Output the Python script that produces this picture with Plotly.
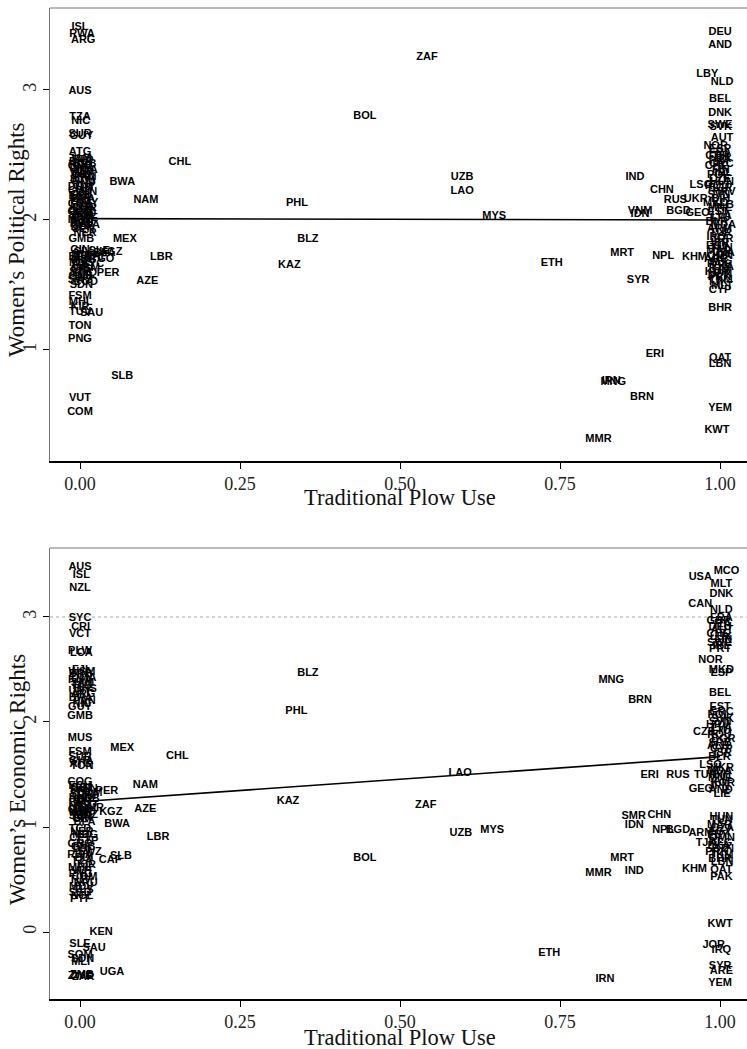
import plotly.graph_objects as go

W, H = 747, 1049

# ---------------- Women's Political Rights (top panel) ----------------
pol_spread_code = ("ISL RWA ARG AUS TZA NIC SUR GUY ATG HND NER GMB CHL BWA NAM MEX KGZ LBR PER AZE "
                   "FSM MHL KIR TUV SAU TON PNG SLB VUT COM ZAF BOL UZB LAO PHL MYS BLZ KAZ ETH IND "
                   "CHN RUS UKR BGD GEO VNM IDN LSO MRT NPL KHM SYR ERI IRN MNG BRN MMR DEU AND LBY "
                   "NLD BEL DNK SWE SVK AUT NOR ESP BHR QAT LBN YEM KWT").split()
pol_spread_x = [0.000, 0.003, 0.005, 0.000, 0.000, 0.001, 0.000, 0.002, 0.000, 0.006,
                0.008, 0.002, 0.156, 0.066, 0.103, 0.070, 0.048, 0.127, 0.044, 0.105,
                0.000, 0.001, 0.000, 0.000, 0.018, 0.000, 0.000, 0.066, 0.000, 0.000,
                0.542, 0.445, 0.597, 0.597, 0.339, 0.647, 0.356, 0.327, 0.737, 0.867,
                0.909, 0.930, 0.962, 0.935, 0.965, 0.875, 0.875, 0.970, 0.847, 0.911,
                0.960, 0.872, 0.898, 0.830, 0.833, 0.878, 0.810, 1.000, 1.000, 0.980,
                1.003, 1.000, 1.000, 1.000, 1.001, 1.003, 0.993, 1.000, 1.000, 1.000,
                1.000, 1.000, 0.995]
pol_spread_y = [3.48, 3.43, 3.38, 2.99, 2.79, 2.76, 2.66, 2.64, 2.52, 2.28,
                1.90, 1.85, 2.44, 2.29, 2.15, 1.85, 1.75, 1.71, 1.59, 1.53,
                1.41, 1.37, 1.33, 1.29, 1.28, 1.18, 1.08, 0.80, 0.63, 0.52,
                3.25, 2.80, 2.33, 2.22, 2.13, 2.03, 1.85, 1.65, 1.67, 2.33,
                2.23, 2.15, 2.16, 2.07, 2.05, 2.07, 2.04, 2.27, 1.74, 1.72,
                1.71, 1.54, 0.97, 0.76, 0.75, 0.64, 0.31, 3.44, 3.34, 3.12,
                3.06, 2.93, 2.82, 2.73, 2.71, 2.63, 2.57, 2.54, 1.32, 0.94,
                0.89, 0.55, 0.38]

pol_left_hi_code = ("JAM TTO BHS BRB GRD DMA LCA VCT KNA CRI PAN SLV GTM DOM HTI CUB VEN COL "
                    "ECU BRA PRY URY GHA NGA CMR GAB COG AGO ZMB ZWE MOZ MWI KEN UGA BDI SEN").split()
pol_left_hi_x = [0.000, 0.004, 0.001, 0.007, 0.000, 0.003, 0.010, 0.000, 0.005, 0.002,
                 0.008, 0.000, 0.004, 0.001, 0.006, 0.000, 0.009, 0.003, 0.000, 0.005,
                 0.002, 0.011, 0.000, 0.004, 0.007, 0.001, 0.000, 0.006, 0.003, 0.009,
                 0.000, 0.004, 0.002, 0.012, 0.000, 0.005]
pol_left_hi_y = [2.47, 2.46, 2.44, 2.43, 2.41, 2.40, 2.38, 2.37, 2.36, 2.34,
                 2.33, 2.31, 2.30, 2.25, 2.24, 2.22, 2.21, 2.19, 2.18, 2.16,
                 2.15, 2.13, 2.12, 2.10, 2.09, 2.07, 2.06, 2.04, 2.03, 2.01,
                 2.00, 1.99, 1.97, 1.96, 1.94, 1.93]

pol_left_lo_code = ("GIN SLE CIV BFA MLI TCD CAF BEN TGO MDG MUS SYC FJI WSM CPV STP GNQ GNB "
                    "DJI SWZ COD SDN").split()
pol_left_lo_x = [0.000, 0.030, 0.004, 0.038, 0.001, 0.008, 0.025, 0.000, 0.035, 0.006,
                 0.002, 0.020, 0.000, 0.010, 0.003, 0.000, 0.007, 0.001, 0.005, 0.000,
                 0.009, 0.002]
pol_left_lo_y = [1.77, 1.76, 1.75, 1.74, 1.73, 1.72, 1.72, 1.71, 1.70, 1.69,
                 1.67, 1.66, 1.65, 1.63, 1.62, 1.60, 1.59, 1.57, 1.56, 1.54,
                 1.52, 1.50]

pol_right_code = ("FRA GBR ITA PRT GRC CHE FIN IRL POL CZE HUN ROU BGR HRV SVN BIH MKD ALB "
                  "MNE EST LVA LTU BLR MDA ARM TUR IRQ JOR ISR EGY TUN MAR DZA OMN ARE AFG "
                  "PAK LKA BTN KOR JPN PRK TKM TJK MLT CYP").split()
pol_right_x = [1.000, 0.996, 1.004, 0.999, 1.002, 0.994, 1.001, 1.005, 0.997, 1.000,
               1.003, 0.995, 1.000, 1.006, 0.998, 1.001, 0.993, 1.004, 1.000, 0.997,
               1.002, 1.000, 0.995, 1.005, 0.999, 1.001, 0.994, 1.003, 1.000, 0.996,
               1.002, 0.998, 1.005, 1.000, 0.993, 1.001, 0.997, 1.004, 1.000, 0.995,
               1.002, 0.999, 1.001, 0.996, 1.003, 1.000]
pol_right_y = [2.51, 2.49, 2.47, 2.45, 2.43, 2.41, 2.38, 2.36, 2.34, 2.31,
               2.29, 2.26, 2.24, 2.21, 2.19, 2.16, 2.13, 2.11, 2.09, 2.06,
               2.03, 2.01, 1.98, 1.96, 1.93, 1.90, 1.87, 1.85, 1.82, 1.80,
               1.78, 1.76, 1.74, 1.72, 1.70, 1.68, 1.66, 1.64, 1.62, 1.60,
               1.58, 1.56, 1.54, 1.52, 1.49, 1.46]

pol_fit_x = [0.0, 1.0]
pol_fit_y = [2.01, 2.00]

# ---------------- Women's Economic Rights (bottom panel) ----------------
eco_spread_code = ("AUS ISL NZL SYC CRI VCT PLW LCA GMB MUS FSM MEX CHL COG PER NAM KGZ AZE BWA LBR "
                   "SLB CAF KEN SLE SAU UGA ZWE ZMB ZAR BLZ PHL LAO KAZ ZAF UZB MYS BOL ETH MNG BRN "
                   "IRN MMR MRT IND ERI RUS TUR GEO SMR CHN IDN NPL BGD ARM KHM QAT PAK KWT JOR IRQ "
                   "SYR ARE YEM MCO USA MLT DNK CAN NLD NOR MKD ESP BEL EST CZE LSO HUN").split()
eco_spread_x = [0.000, 0.002, 0.000, 0.000, 0.001, 0.000, 0.000, 0.002, 0.000, 0.000,
                0.000, 0.066, 0.152, 0.000, 0.042, 0.102, 0.048, 0.102, 0.058, 0.122,
                0.064, 0.047, 0.033, 0.000, 0.022, 0.050, 0.000, 0.003, 0.005, 0.356,
                0.338, 0.594, 0.325, 0.540, 0.595, 0.644, 0.445, 0.733, 0.830, 0.875,
                0.820, 0.810, 0.847, 0.866, 0.890, 0.934, 0.977, 0.970, 0.865, 0.905,
                0.866, 0.911, 0.934, 0.970, 0.960, 1.002, 1.002, 1.000, 0.990, 1.002,
                1.000, 1.002, 1.000, 1.010, 0.969, 1.002, 1.002, 0.969, 1.002, 0.985,
                1.002, 1.002, 1.000, 1.000, 0.975, 0.985, 1.002]
eco_spread_y = [3.47, 3.40, 3.27, 2.99, 2.90, 2.84, 2.67, 2.65, 2.05, 1.85,
                1.71, 1.75, 1.67, 1.43, 1.34, 1.40, 1.14, 1.17, 1.03, 0.90,
                0.72, 0.68, 0.00, -0.12, -0.15, -0.38, -0.42, -0.41, -0.43, 2.46,
                2.10, 1.51, 1.25, 1.21, 0.94, 0.97, 0.70, -0.20, 2.40, 2.21,
                -0.45, 0.56, 0.70, 0.58, 1.49, 1.49, 1.49, 1.36, 1.10, 1.11,
                1.02, 0.97, 0.97, 0.94, 0.60, 0.59, 0.52, 0.07, -0.13, -0.17,
                -0.33, -0.37, -0.49, 3.44, 3.38, 3.31, 3.22, 3.12, 3.06, 2.59,
                2.49, 2.46, 2.27, 2.14, 1.90, 1.59, 1.09]

eco_left_a_code = "FJI WSM BRB DMA KNA JAM TTO BHS URY ARG BRA PAN NIC GUY".split()
eco_left_a_x = [0.000, 0.003, 0.001, 0.006, 0.000, 0.004, 0.002, 0.008, 0.000, 0.005,
                0.001, 0.007, 0.003, 0.000]
eco_left_a_y = [2.49, 2.47, 2.45, 2.42, 2.40, 2.37, 2.34, 2.31, 2.29, 2.26,
                2.23, 2.20, 2.17, 2.14]

eco_left_b_code = "SUR GHA ATG TON".split()
eco_left_b_x = [0.000, 0.002, 0.001, 0.003]
eco_left_b_y = [1.66, 1.63, 1.60, 1.58]

eco_left_c_code = ("ECU COL VEN PRY DOM SLV GTM HND CUB HTI BEN TGO NGA CMR GAB AGO MWI MOZ "
                   "SEN GIN CIV BFA").split()
eco_left_c_x = [0.000, 0.004, 0.010, 0.002, 0.015, 0.000, 0.006, 0.001, 0.012, 0.003,
                0.000, 0.008, 0.002, 0.018, 0.000, 0.005, 0.001, 0.009, 0.000, 0.004,
                0.002, 0.007]
eco_left_c_y = [1.39, 1.37, 1.36, 1.34, 1.32, 1.31, 1.29, 1.27, 1.26, 1.24,
                1.23, 1.21, 1.19, 1.18, 1.16, 1.14, 1.13, 1.11, 1.10, 1.08,
                1.07, 1.05]

eco_left_d_code = ("TCD NER MDG CPV STP GNQ GNB DJI SWZ RWA BDI TZA KIR MHL VUT PNG COM TUV "
                   "NRU MDV TLS SSD NCL PYF").split()
eco_left_d_x = [0.000, 0.003, 0.008, 0.001, 0.012, 0.000, 0.005, 0.002, 0.015, 0.000,
                0.006, 0.003, 0.010, 0.000, 0.004, 0.001, 0.007, 0.000, 0.009, 0.002,
                0.005, 0.000, 0.003, 0.001]
eco_left_d_y = [0.98, 0.95, 0.92, 0.89, 0.86, 0.84, 0.81, 0.79, 0.76, 0.73,
                0.70, 0.67, 0.64, 0.61, 0.58, 0.55, 0.52, 0.49, 0.46, 0.43,
                0.40, 0.37, 0.34, 0.31]

eco_left_e_code = "SOM SDN MLI".split()
eco_left_e_x = [0.000, 0.004, 0.001]
eco_left_e_y = [-0.22, -0.26, -0.29]

eco_right_f_code = "FRA GBR ITA DEU AUT CHE LUX FIN SWE IRL PRT".split()
eco_right_f_x = [1.002, 0.998, 1.004, 1.000, 1.003, 0.997, 1.001, 1.005, 0.999, 1.002, 1.000]
eco_right_f_y = [2.99, 2.96, 2.93, 2.90, 2.87, 2.84, 2.81, 2.78, 2.75, 2.72, 2.69]

eco_right_g_code = "GRC POL SVK SVN HRV LVA LTU ROU BGR SRB ALB CYP ISR BLR".split()
eco_right_g_x = [1.002, 0.998, 1.004, 1.000, 0.996, 1.003, 1.001, 0.999, 1.005, 1.000,
                 0.997, 1.002, 1.004, 0.999]
eco_right_g_y = [2.09, 2.06, 2.03, 2.00, 1.97, 1.94, 1.91, 1.87, 1.84, 1.80,
                 1.77, 1.74, 1.70, 1.66]

eco_right_h_code = "UKR MDA BIH MNE KOR JPN AND LIE".split()
eco_right_h_x = [1.003, 0.999, 1.002, 1.000, 1.004, 0.998, 1.001, 1.003]
eco_right_h_y = [1.56, 1.53, 1.49, 1.46, 1.42, 1.39, 1.35, 1.31]

eco_right_i_code = "TUN MAR DZA EGY LBY OMN AFG LKA BTN PRK TKM TJK BHR LBN".split()
eco_right_i_x = [1.002, 0.999, 1.004, 1.000, 0.997, 1.003, 1.001, 0.998, 1.004, 0.995,
                 1.002, 0.978, 1.000, 1.003]
eco_right_i_y = [1.06, 1.02, 0.99, 0.95, 0.92, 0.89, 0.85, 0.82, 0.79, 0.76,
                 0.73, 0.85, 0.69, 0.66]

eco_fit_x = [0.0, 1.0]
eco_fit_y = [1.24, 1.67]

x_tickvals = [0, 0.25, 0.5, 0.75, 1.0]
x_ticktext = ["0.00", "0.25", "0.50", "0.75", "1.00"]
pol_tickvals = [1, 2, 3]
eco_tickvals = [0, 1, 2, 3]

x_title = "Traditional Plow Use"
pol_title = "Women\u2019s Political Rights"
eco_title = "Women\u2019s Economic Rights"


def concat(*groups):
    c, x, y = [], [], []
    for gc, gx, gy in groups:
        assert len(gc) == len(gx) == len(gy), (gc[:2], len(gc), len(gx), len(gy))
        c += gc
        x += gx
        y += gy
    return c, x, y


pol_c, pol_x, pol_y = concat((pol_spread_code, pol_spread_x, pol_spread_y),
                             (pol_left_hi_code, pol_left_hi_x, pol_left_hi_y),
                             (pol_left_lo_code, pol_left_lo_x, pol_left_lo_y),
                             (pol_right_code, pol_right_x, pol_right_y))
eco_c, eco_x, eco_y = concat((eco_spread_code, eco_spread_x, eco_spread_y),
                             (eco_left_a_code, eco_left_a_x, eco_left_a_y),
                             (eco_left_b_code, eco_left_b_x, eco_left_b_y),
                             (eco_left_c_code, eco_left_c_x, eco_left_c_y),
                             (eco_left_d_code, eco_left_d_x, eco_left_d_y),
                             (eco_left_e_code, eco_left_e_x, eco_left_e_y),
                             (eco_right_f_code, eco_right_f_x, eco_right_f_y),
                             (eco_right_g_code, eco_right_g_x, eco_right_g_y),
                             (eco_right_h_code, eco_right_h_x, eco_right_h_y),
                             (eco_right_i_code, eco_right_i_x, eco_right_i_y))

label_font = dict(family="Liberation Sans, Arial, sans-serif", size=11, color="#000",
                  weight="bold")
serif = "Liberation Serif, Times New Roman, serif"

fig = go.Figure()
fig.add_trace(go.Scatter(x=pol_fit_x, y=pol_fit_y, mode="lines",
                         line=dict(color="black", width=1.6), xaxis="x", yaxis="y",
                         showlegend=False, hoverinfo="skip"))
fig.add_trace(go.Scatter(x=pol_x, y=pol_y, text=pol_c, mode="text",
                         textposition="middle center", textfont=label_font,
                         xaxis="x", yaxis="y", showlegend=False))
fig.add_trace(go.Scatter(x=eco_fit_x, y=eco_fit_y, mode="lines",
                         line=dict(color="black", width=1.6), xaxis="x2", yaxis="y2",
                         showlegend=False, hoverinfo="skip"))
fig.add_trace(go.Scatter(x=eco_x, y=eco_y, text=eco_c, mode="text",
                         textposition="middle center", textfont=label_font,
                         xaxis="x2", yaxis="y2", showlegend=False))


def px_x(p):
    return p / W


def px_y(p):
    return 1 - p / H


x_common = dict(range=[-0.0469, 1.042], tickvals=x_tickvals, ticktext=x_ticktext,
                ticks="outside", ticklen=6, tickwidth=1, tickcolor="black",
                showline=True, linecolor="black", linewidth=1.5,
                showgrid=False, zeroline=False,
                tickfont=dict(family=serif, size=18, color="#222"),
                domain=[px_x(50), 1.0])
y_common = dict(ticks="outside", ticklen=6, tickwidth=1, tickcolor="black",
                showline=True, linecolor="#777", linewidth=1,
                showgrid=False, zeroline=False, tickangle=-90,
                tickfont=dict(family=serif, size=18, color="#222"))

fig.update_layout(
    width=W, height=H,
    margin=dict(l=0, r=0, t=0, b=0),
    paper_bgcolor="white", plot_bgcolor="white",
    xaxis=dict(**x_common, anchor="y"),
    yaxis=dict(**y_common, range=[0.146, 3.63], tickvals=pol_tickvals,
               domain=[px_y(461), px_y(8)], anchor="x"),
    xaxis2=dict(**x_common, anchor="y2"),
    yaxis2=dict(**y_common, range=[-0.638, 3.657], tickvals=eco_tickvals,
                domain=[px_y(999), px_y(548)], anchor="x2"),
    shapes=[
        dict(type="line", xref="x domain", yref="y domain", x0=0, x1=1, y0=1, y1=1,
             line=dict(color="#777", width=1)),
        dict(type="line", xref="x2 domain", yref="y2 domain", x0=0, x1=1, y0=1, y1=1,
             line=dict(color="#777", width=1)),
        dict(type="line", xref="x2 domain", yref="y2", x0=0, x1=1, y0=3, y1=3,
             line=dict(color="#aaa", width=1, dash="dot"), layer="below"),
    ],
    annotations=[
        dict(text=x_title, xref="paper", yref="paper", x=px_x(400), y=px_y(497),
             xanchor="center", yanchor="middle", showarrow=False,
             font=dict(family=serif, size=22.5, color="#111")),
        dict(text=x_title, xref="paper", yref="paper", x=px_x(400), y=px_y(1037),
             xanchor="center", yanchor="middle", showarrow=False,
             font=dict(family=serif, size=22.5, color="#111")),
        dict(text=pol_title, xref="paper", yref="paper", x=px_x(17), y=px_y(240),
             xanchor="center", yanchor="middle", showarrow=False, textangle=-90,
             font=dict(family=serif, size=23, color="#111")),
        dict(text=eco_title, xref="paper", yref="paper", x=px_x(17), y=px_y(780),
             xanchor="center", yanchor="middle", showarrow=False, textangle=-90,
             font=dict(family=serif, size=23, color="#111")),
    ],
)

fig.write_html("out.html", config={"displayModeBar": False},
               post_script="document.body.style.margin='0';document.body.style.padding='0';")
